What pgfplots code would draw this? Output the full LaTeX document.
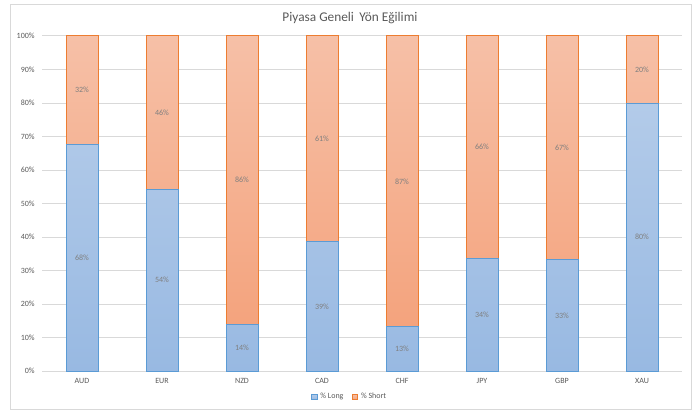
\documentclass[border=0pt]{standalone}
\usepackage{pgfplots}
\pgfplotsset{compat=1.18}
\usepackage{pgfplotstable}
\usepackage{fontspec}
\setmainfont{Carlito}

\definecolor{blueedge}{HTML}{5B9BD5}
\definecolor{bluetop}{HTML}{B3CBE9}
\definecolor{bluebot}{HTML}{98B9E2}
\definecolor{orgedge}{HTML}{ED7D31}
\definecolor{orgtop}{HTML}{F6C0A7}
\definecolor{orgbot}{HTML}{F4A37D}
\definecolor{txt}{HTML}{595959}
\definecolor{lbl}{HTML}{7F7F7F}
\definecolor{gridc}{HTML}{D9D9D9}

\pgfplotstableread{
x long short
0 67.6 32.4
1 54.3 45.7
2 14.0 86.0
3 38.6 61.4
4 13.2 86.8
5 33.7 66.3
6 33.2 66.8
7 80.0 20.0
}\positions

\begin{document}
\begin{tikzpicture}[x=0.75pt,y=0.75pt]
\path[use as bounding box] (0,0) rectangle (699,411);
\draw[gridc, line width=0.75pt] (10,2) rectangle (691,406);
\node[txt, font=\fontsize{10}{12}\selectfont] at (350,393) {Piyasa Geneli\, Yön Eğilimi};
\begin{axis}[
    at={(31.5pt,30pt)}, anchor=south west,
    scale only axis,
    width=480pt, height=251.25pt,
    ybar stacked, bar width=24pt,
    xmin=-0.5, xmax=7.5,
    ymin=0, ymax=100,
    xtick=data,
    xticklabels={AUD,EUR,NZD,CAD,CHF,JPY,GBP,XAU},
    ytick={0,10,...,100},
    yticklabel={\pgfmathprintnumber[assume math mode=true]{\tick}\%},
    /pgf/number format/assume math mode=true,
    major tick length=0pt,
    tick label style={txt, font=\fontsize{6}{7}\selectfont},
    xticklabel style={yshift=-2pt},
    yticklabel style={xshift=-2pt},
    axis line style={draw=none},
    ymajorgrids, grid style={gridc, line width=0.75pt},
    nodes near coords={\pgfmathprintnumber[fixed,precision=0,assume math mode=true]{\rawval}\%},
    every node near coord/.style={lbl, font=\fontsize{6}{7}\selectfont, anchor=center},
    legend style={at={(0.481,-0.0776)}, anchor=center, draw=none, fill=none,
        legend columns=2, font=\fontsize{6}{7}\selectfont, text=txt,
        /tikz/every even column/.append style={column sep=4pt},
        inner sep=0pt},
    legend image code/.code={\draw[#1] (0pt,-2.2pt) rectangle (4.4pt,2.2pt);},
]
\addplot[draw=blueedge, line width=0.75pt, top color=bluetop, bottom color=bluebot,
    visualization depends on={\thisrow{long} \as \rawval}]
    table[x=x, y=long] {\positions};
\addlegendentry{\% Long}
\addplot[draw=orgedge, line width=0.75pt, top color=orgtop, bottom color=orgbot,
    visualization depends on={\thisrow{short} \as \rawval}]
    table[x=x, y=short] {\positions};
\addlegendentry{\% Short}
\end{axis}
\end{tikzpicture}
\end{document}
